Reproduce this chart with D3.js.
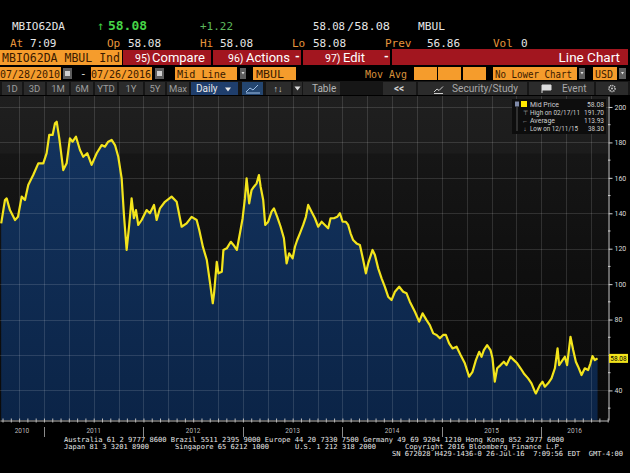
<!DOCTYPE html>
<html>
<head>
<meta charset="utf-8">
<script src="https://cdn.jsdelivr.net/npm/d3@7.9.0/dist/d3.min.js"></script>
<style>
body { margin: 0; background: #000; overflow: hidden; }
svg { display: block; }
</style>
</head>
<body>
<svg id="chart" width="630" height="473"></svg>
<script>
// MBIO62DA mid price (decimal year -> price)
const years = [
  2010.570, 2010.608, 2010.625, 2010.658, 2010.709, 2010.739, 2010.776, 2010.809, 2010.842, 2010.892,
  2010.943, 2010.993, 2011.027, 2011.053, 2011.087, 2011.111, 2011.128, 2011.154, 2011.194, 2011.228,
  2011.261, 2011.288, 2011.322, 2011.362, 2011.395, 2011.435, 2011.479, 2011.530, 2011.580, 2011.613,
  2011.646, 2011.680, 2011.714, 2011.747, 2011.781, 2011.804, 2011.831, 2011.857, 2011.881, 2011.904,
  2011.925, 2011.948, 2011.982, 2012.032, 2012.065, 2012.106, 2012.133, 2012.166, 2012.216, 2012.283,
  2012.334, 2012.384, 2012.434, 2012.484, 2012.535, 2012.561, 2012.598, 2012.637, 2012.670, 2012.697,
  2012.710, 2012.737, 2012.754, 2012.788, 2012.804, 2012.838, 2012.878, 2012.905, 2012.939, 2012.970,
  2012.997, 2013.020, 2013.037, 2013.063, 2013.087, 2013.111, 2013.138, 2013.161, 2013.178, 2013.204,
  2013.224, 2013.254, 2013.288, 2013.312, 2013.345, 2013.379, 2013.412, 2013.439, 2013.465, 2013.500,
  2013.523, 2013.546, 2013.573, 2013.606, 2013.633, 2013.656, 2013.690, 2013.724, 2013.757, 2013.791,
  2013.824, 2013.857, 2013.881, 2013.915, 2013.948, 2013.975, 2014.002, 2014.035, 2014.058, 2014.082,
  2014.108, 2014.142, 2014.176, 2014.209, 2014.236, 2014.259, 2014.303, 2014.327, 2014.360, 2014.394,
  2014.427, 2014.460, 2014.494, 2014.528, 2014.571, 2014.611, 2014.645, 2014.678, 2014.729, 2014.772,
  2014.806, 2014.846, 2014.879, 2014.913, 2014.947, 2014.980, 2015.013, 2015.040, 2015.073, 2015.107,
  2015.148, 2015.188, 2015.231, 2015.274, 2015.308, 2015.342, 2015.375, 2015.399, 2015.422, 2015.455,
  2015.489, 2015.509, 2015.532, 2015.556, 2015.590, 2015.623, 2015.650, 2015.690, 2015.724, 2015.757,
  2015.791, 2015.824, 2015.867, 2015.901, 2015.935, 2015.945, 2015.985, 2016.012, 2016.035, 2016.068,
  2016.102, 2016.136, 2016.163, 2016.179, 2016.203, 2016.236, 2016.259, 2016.293, 2016.320, 2016.347,
  2016.370, 2016.404, 2016.437, 2016.470, 2016.494, 2016.514, 2016.538, 2016.565
];
const midPrice = [
  134.3, 147.5, 148.4, 141.8, 136.2, 138.0, 149.4, 147.5, 156.0, 161.6,
  168.2, 168.2, 173.9, 184.2, 184.2, 190.8, 191.7, 182.3, 164.4, 168.2,
  182.3, 180.4, 183.2, 175.7, 171.9, 173.9, 167.3, 173.9, 178.5, 177.6,
  180.4, 181.4, 178.5, 171.9, 159.7, 139.0, 119.3, 133.4, 148.4, 137.2,
  141.8, 133.4, 136.2, 141.8, 140.0, 144.7, 136.2, 142.8, 146.5, 149.4,
  146.5, 132.4, 134.3, 138.0, 136.2, 130.5, 121.0, 113.6, 100.4, 89.2,
  94.8, 112.6, 106.1, 107.0, 119.3, 120.2, 123.9, 122.1, 119.3, 128.7,
  137.2, 148.4, 159.7, 145.6, 153.1, 155.0, 156.9, 161.6, 155.0, 147.5,
  133.4, 135.2, 140.9, 142.8, 138.0, 132.4, 125.9, 111.7, 117.4, 114.6,
  121.1, 124.9, 128.7, 133.4, 138.0, 144.7, 140.9, 137.2, 132.4, 135.2,
  133.4, 131.5, 137.2, 137.2, 138.0, 140.0, 135.2, 135.2, 133.4, 128.7,
  124.9, 123.0, 122.1, 113.6, 106.1, 111.7, 119.3, 116.4, 108.9, 103.3,
  98.5, 92.9, 91.0, 95.7, 98.5, 95.7, 94.8, 90.1, 84.4, 78.8,
  83.5, 79.7, 76.9, 72.2, 71.3, 69.4, 71.3, 71.3, 66.6, 63.7,
  64.7, 60.0, 55.3, 47.8, 50.5, 57.1, 61.8, 59.0, 62.8, 65.6,
  62.8, 58.1, 45.0, 52.5, 54.3, 56.2, 54.3, 59.0, 57.1, 55.3,
  52.5, 49.6, 46.8, 44.0, 39.3, 38.3, 43.0, 44.9, 42.1, 44.0,
  46.8, 52.5, 63.7, 54.3, 56.2, 59.0, 54.3, 70.3, 62.8, 56.2,
  53.4, 48.7, 52.5, 51.5, 55.3, 59.4, 57.1, 58.08
];
const yTicks = [40, 60, 80, 100, 120, 140, 160, 180, 200];
const yMinor = [30, 50, 70, 90, 110, 130, 150, 170, 190];
const yearLabels = [2010, 2011, 2012, 2013, 2014, 2015, 2016];
const legendRows = [
  ['Mid Price', '58.08'],
  ['High on 02/17/11', '191.70'],
  ['Average', '113.93'],
  ['Low on 12/11/15', '38.30']
];
const lastPrice = 58.08;

const svg = d3.select('#chart');
const mono = "'DejaVu Sans Mono', 'Liberation Mono', monospace";
const sans = "Roboto, 'Liberation Sans', Arial, sans-serif";
const orange = '#f59c2c';
const dark = '#3a1a00';

function txt(x, y, s, color, size, opts = {}) {
  const t = svg.append('text').attr('x', x).attr('y', y).text(s)
    .attr('fill', color).attr('font-size', size)
    .attr('font-family', opts.family || mono)
    .style('white-space', 'pre');
  if (opts.weight) t.attr('font-weight', opts.weight);
  if (opts.anchor) t.attr('text-anchor', opts.anchor);
  if (opts.len) t.attr('textLength', opts.len).attr('lengthAdjust', 'spacingAndGlyphs');
  return t;
}
function box(x, y, w, h, fill) {
  return svg.append('rect').attr('x', x).attr('y', y).attr('width', w).attr('height', h).attr('fill', fill);
}

// ---- header rows ----
txt(12, 30, 'MBIO62DA', '#e6e6e6', 11, { len: 53 });
txt(97, 30, '↑', '#3fcf3f', 12);
txt(108, 30, '58.08', '#47d447', 12.5, { weight: 'bold', len: 39 });
txt(200, 30, '+1.22', '#5cb85c', 11, { len: 33 });
txt(313, 30, '58.08', '#e6e6e6', 11, { len: 32 });
txt(347, 30, '/58.08', '#e6e6e6', 11, { len: 43 });
txt(418, 30, 'MBUL', '#e6e6e6', 11, { len: 27 });

[['At', 10, '7:09', 30], ['Op', 107, '58.08', 128], ['Hi', 200, '58.08', 220],
 ['Lo', 292, '58.08', 313], ['Prev', 385, '56.86', 427], ['Vol', 493, '0', 521]]
  .forEach(([k, kx, v, vx]) => {
    txt(kx, 46.5, k, '#e8963c', 11);
    txt(vx, 46.5, v, '#e6e6e6', 11);
  });

// row 3: security box + red action bar
box(0, 50, 122, 15, orange);
txt(2, 62, 'MBIO62DA MBUL Ind', dark, 12, { len: 118 });
box(123, 50, 88, 15, '#a2161f');
box(213, 50, 88, 15, '#a2161f');
box(303, 50, 87, 15, '#a2161f');
box(392, 49, 236, 16, '#a2161f');
txt(135, 62, '95)', '#fff', 10.5, { family: sans });
txt(152, 62, 'Compare', '#fff', 13, { family: sans });
txt(228, 62, '96)', '#fff', 10.5, { family: sans });
txt(246, 62, 'Actions', '#fff', 13, { family: sans });
txt(295, 61, '-', '#fff', 12, { family: sans, weight: 'bold' });
txt(325, 62, '97)', '#fff', 10.5, { family: sans });
txt(343, 62, 'Edit', '#fff', 13, { family: sans });
txt(384, 61, '-', '#fff', 12, { family: sans, weight: 'bold' });
txt(620, 62, 'Line Chart', '#fff', 13.5, { family: sans, anchor: 'end' });

// row 4: date range + options
function calBtn(x) {
  box(x, 68, 9, 11, '#5d5d5d');
  box(x + 2, 71, 5, 5, '#cfcfcf');
}
function ddBtn(x, w) {
  box(x, 68, w, 11, '#5d5d5d');
  svg.append('path').attr('d', `M${x + w / 2 - 1.5},72 h3 l-1.5,2.5 z`).attr('fill', '#ddd');
}
box(0, 67, 61, 13, orange);
txt(0, 77.5, '07/28/2010', dark, 11, { len: 60 });
calBtn(63);
txt(80, 77, '-', '#ddd', 11);
box(91, 67, 61, 13, orange);
txt(91, 77.5, '07/26/2016', dark, 11, { len: 60 });
calBtn(155);
box(175, 67, 62, 13, orange);
txt(177, 77.5, 'Mid Line', dark, 11, { len: 49 });
ddBtn(240, 6);
box(253, 67, 43, 13, orange);
txt(256, 77.5, 'MBUL', dark, 11, { len: 28 });
txt(365, 77.5, 'Mov Avg', '#d8913c', 11, { len: 42 });
box(414, 67, 23, 13, orange);
box(438, 67, 23, 13, orange);
box(463, 67, 23, 13, orange);
box(493, 67, 84, 13, orange);
txt(495, 77.5, 'No Lower Chart', dark, 11, { len: 77 });
ddBtn(579, 6);
box(593, 67, 24, 13, orange);
txt(595, 77.5, 'USD', dark, 11, { len: 18 });
ddBtn(619, 7);

// row 5: toolbar
box(0, 81, 630, 14, '#161616');
const btns = [
  ['1D', 2, 22], ['3D', 24, 45], ['1M', 47, 69], ['6M', 71, 93], ['YTD', 95, 117],
  ['1Y', 119, 143], ['5Y', 145, 165], ['Max', 167, 189]
];
btns.forEach(([s, a, b]) => {
  box(a, 82, b - a, 13, '#2b2b2b');
  txt((a + b) / 2, 92, s, '#9d9d9d', 9.5, { family: sans, anchor: 'middle' });
});
box(191, 82, 47, 13, '#1f3e6c');
txt(196, 92, 'Daily', '#e8e8e8', 10, { family: sans });
svg.append('path').attr('d', 'M225,87.5 h6 l-3,4 z').attr('fill', '#e8e8e8');
box(242, 82, 21, 13, '#244670');
svg.append('path').attr('d', 'M246,92 l4,-4 l3,2 l5,-5 M246,93 h14').attr('stroke', '#9fc0e8').attr('fill', 'none').attr('stroke-width', 1);
box(266, 82, 25, 13, '#2b2b2b');
txt(278, 92, '↑↓', '#d0d0d0', 9, { family: sans, anchor: 'middle', weight: 'bold' });
box(293, 82, 9, 13, '#2b2b2b');
svg.append('path').attr('d', 'M294.5,86.5 h6 l-3,4 z').attr('fill', '#ddd');
box(303, 82, 37, 13, '#2b2b2b');
txt(312, 92, 'Table', '#b5b5b5', 10, { family: sans });
box(383, 82, 33, 13, '#2b2b2b');
txt(399, 92, '<<', '#d0d0d0', 10, { family: sans, anchor: 'middle', weight: 'bold' });
box(418, 82, 109, 13, '#2b2b2b');
svg.append('path').attr('d', 'M434,92 l3,-3 l2,1.5 l4,-4 M434,93.5 h9').attr('stroke', '#ccc').attr('fill', 'none');
txt(452, 92, 'Security/Study', '#a8a8a8', 10, { family: sans, len: 66 });
box(529, 82, 65, 13, '#2b2b2b');
svg.append('path').attr('d', 'M542,85 v8 M542,85 h9 v5 h-9').attr('stroke', '#ddd').attr('fill', '#ddd');
txt(562, 92, 'Event', '#a8a8a8', 10, { family: sans });
box(596, 82, 32, 13, '#2b2b2b');
svg.append('circle').attr('cx', 612).attr('cy', 88.5).attr('r', 3).attr('fill', 'none').attr('stroke', '#ccc').attr('stroke-width', 1.6).attr('stroke-dasharray', '1.2 0.8');
svg.append('circle').attr('cx', 612).attr('cy', 88.5).attr('r', 1).attr('fill', '#ccc');

// ---- chart ----
const plotW = 608, plotTop = 96, plotBottom = 420;
const x = d3.scaleLinear().domain([2010.558, 2016.67]).range([0, plotW]);
const y = d3.scaleLinear().domain([23.3, 206.2]).range([plotBottom, plotTop]);
const series = years.map((t, i) => ({ t, v: midPrice[i] }));

const defs = svg.append('defs');
const bg = defs.append('linearGradient').attr('id', 'bg').attr('x1', 0).attr('x2', 0).attr('y1', 0).attr('y2', 1);
[[0, '#1f1f1f'], [0.175, '#1c1c1c'], [0.18, '#161616'], [0.55, '#0f0f0f'], [1, '#0a0a0a']]
  .forEach(([o, c]) => bg.append('stop').attr('offset', o).attr('stop-color', c));
const fillG = defs.append('linearGradient').attr('id', 'fillG').attr('x1', 0).attr('x2', 0).attr('y1', 0).attr('y2', 1);
[[0, '#13335e'], [1, '#0b2447']]
  .forEach(([o, c]) => fillG.append('stop').attr('offset', o).attr('stop-color', c));
defs.append('clipPath').attr('id', 'plotClip').append('rect')
  .attr('x', 0).attr('y', plotTop).attr('width', plotW).attr('height', plotBottom - plotTop);

const plot = svg.append('g').attr('clip-path', 'url(#plotClip)');
plot.append('rect').attr('x', 0).attr('y', plotTop).attr('width', plotW).attr('height', plotBottom - plotTop).attr('fill', 'url(#bg)');

plot.append('path').datum(series)
  .attr('fill', 'url(#fillG)')
  .attr('d', d3.area().x(d => x(d.t)).y0(plotBottom).y1(d => y(d.v)));

// grid on top of the fill
const quarters = d3.range(2010.75, 2016.67, 0.25);
plot.append('g').selectAll('line').data(quarters).join('line')
  .attr('x1', d => Math.round(x(d)) + 0.5).attr('x2', d => Math.round(x(d)) + 0.5)
  .attr('y1', plotTop).attr('y2', plotBottom)
  .attr('stroke', '#fff').attr('stroke-opacity', 0.13);
plot.append('g').selectAll('line').data(yTicks).join('line')
  .attr('x1', 0).attr('x2', plotW)
  .attr('y1', d => Math.round(y(d)) + 0.5).attr('y2', d => Math.round(y(d)) + 0.5)
  .attr('stroke', '#fff').attr('stroke-opacity', 0.13);

plot.append('path').datum(series)
  .attr('fill', 'none').attr('stroke', '#f3e41c').attr('stroke-width', 2.2)
  .attr('stroke-linejoin', 'round')
  .attr('d', d3.line().x(d => x(d.t)).y(d => y(d.v)));

// legend box
const lg = svg.append('g');
lg.append('rect').attr('x', 512).attr('y', 99).attr('width', 94).attr('height', 35).attr('fill', '#0d0d0d');
lg.append('rect').attr('x', 515).attr('y', 101.5).attr('width', 4).attr('height', 5).attr('fill', '#7f8aa8');
lg.append('rect').attr('x', 521).attr('y', 101).attr('width', 6).attr('height', 6).attr('fill', '#ffe800');
lg.append('line').attr('x1', 517).attr('x2', 517).attr('y1', 107).attr('y2', 131).attr('stroke', '#555');
['', '⊤', '←', '↓'].forEach((s, i) => {
  if (s) lg.append('text').attr('x', 525).attr('y', 107 + i * 8).attr('text-anchor', 'middle')
    .attr('fill', '#bbb').attr('font-size', 6).attr('font-family', sans).text(s);
});
const keyLen = [29, 50, 25, 48];
const valLen = [17, 20, 20, 16];
legendRows.forEach(([k, v], i) => {
  lg.append('text').attr('x', 530).attr('y', 107 + i * 8).attr('fill', '#cfcfcf')
    .attr('font-size', 6.3).attr('font-family', sans)
    .attr('textLength', keyLen[i]).attr('lengthAdjust', 'spacingAndGlyphs').text(k);
  lg.append('text').attr('x', 604 - valLen[i]).attr('y', 107 + i * 8).attr('fill', '#cfcfcf')
    .attr('font-size', 6.3).attr('font-family', sans)
    .attr('textLength', valLen[i]).attr('lengthAdjust', 'spacingAndGlyphs').text(v);
});

// right axis (the 60 label sits under the last price tag)
const yAxis = svg.append('g').attr('transform', `translate(${plotW + 0.5},0)`)
  .call(d3.axisRight(y).tickValues(yTicks).tickSize(4).tickSizeOuter(0).tickPadding(2)
    .tickFormat(d => Math.abs(y(d) - y(lastPrice)) < 8 ? '' : d3.format('d')(d)));
yAxis.select('.domain').attr('stroke', '#cfcfcf');
yAxis.selectAll('.tick line').attr('stroke', '#cfcfcf');
yAxis.selectAll('.tick text').attr('fill', '#dcdcdc').attr('font-size', 7).attr('font-family', sans);
svg.append('g').selectAll('line').data(yMinor).join('line')
  .attr('x1', plotW).attr('x2', plotW + 2.5)
  .attr('y1', d => y(d)).attr('y2', d => y(d)).attr('stroke', '#cfcfcf');

// last price tag
const ly = y(lastPrice);
svg.append('rect').attr('x', 609).attr('y', ly - 4.5).attr('width', 19).attr('height', 9).attr('fill', '#f3e41c');
txt(618.5, ly + 2.5, '58.08', '#000', 6.5, { family: sans, anchor: 'middle' });

// bottom axis
const months = d3.range(2010.5833, 2016.67, 1 / 12);
const xAxis = svg.append('g').attr('transform', `translate(0,${plotBottom + 0.5})`)
  .call(d3.axisBottom(x).tickValues(months).tickSize(2).tickSizeOuter(0).tickFormat(''));
xAxis.select('.domain').attr('stroke', '#bdbdbd');
xAxis.selectAll('.tick line').attr('stroke', '#bdbdbd').attr('y1', -2);
svg.append('g').selectAll('line').data(yearLabels.slice(1)).join('line')
  .attr('x1', d => Math.round(x(d)) + 0.5).attr('x2', d => Math.round(x(d)) + 0.5)
  .attr('y1', 427).attr('y2', 437).attr('stroke', '#8a8a8a');
const [d0, d1] = x.domain();
svg.append('g').selectAll('text').data(yearLabels).join('text')
  .attr('x', d => (x(Math.max(d, d0)) + x(Math.min(d + 1, d1))) / 2)
  .attr('y', 432.5).attr('text-anchor', 'middle')
  .attr('fill', '#bdbdbd').attr('font-size', 6.5).attr('font-family', sans)
  .text(d => d);

// footer
const fs = 7;
txt(64, 442, 'Australia 61 2 9777 8600 Brazil 5511 2395 9000 Europe 44 20 7330 7500 Germany 49 69 9204 1210 Hong Kong 852 2977 6000', '#e6e6e6', fs, { len: 500 });
txt(64, 449, 'Japan 81 3 3201 8900', '#e6e6e6', fs, { len: 85 });
txt(175, 449, 'Singapore 65 6212 1000', '#e6e6e6', fs, { len: 94 });
txt(295, 449, 'U.S. 1 212 318 2000', '#e6e6e6', fs, { len: 81 });
txt(405, 449, 'Copyright 2016 Bloomberg Finance L.P.', '#e6e6e6', fs, { len: 158 });
txt(392, 456, 'SN 672028 H429-1436-0 26-Jul-16  7:09:56 EDT  GMT-4:00', '#e6e6e6', fs, { len: 231 });
</script>
</body>
</html>
